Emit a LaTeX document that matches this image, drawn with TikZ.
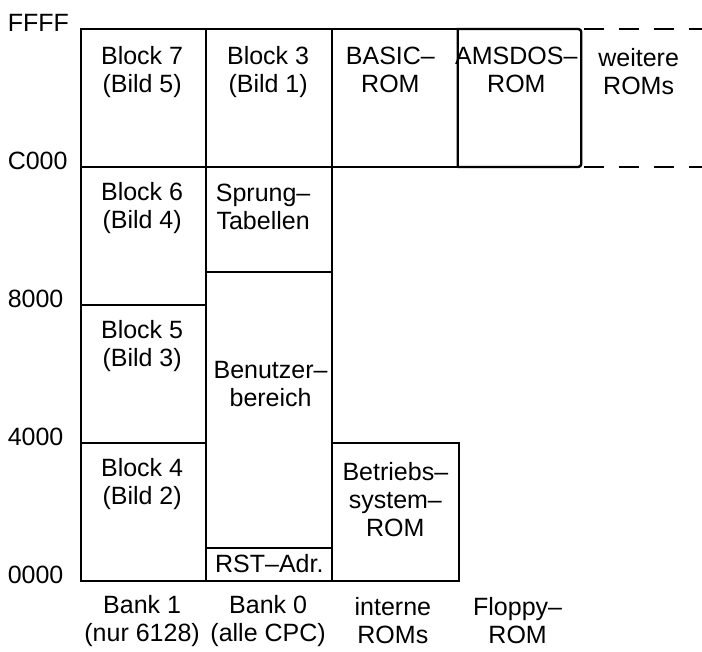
\documentclass[tikz,border=0pt]{standalone}
\usepackage{fontspec}
\setmainfont{Liberation Sans}
\usetikzlibrary{positioning}

\tikzset{
  mapline/.style={line width=1.2pt, black},
  romdash/.style={line width=1.2pt, dash pattern=on 10pt off 7.5pt},
  memtext/.style={align=center, font=\fontsize{12.5}{14}\selectfont, inner sep=0pt},
  addrtext/.style={anchor=west, font=\fontsize{12.5}{14}\selectfont, inner sep=0pt}
}

\begin{document}
\begin{tikzpicture}[x=62.375pt, y=69pt]
  \useasboundingbox (-0.649,-0.514) rectangle (4.978,4.210);
  % Bank 1
  \draw[mapline] (0,0) rectangle (1,4);
  \draw[mapline] (0,1)--(1,1);
  \draw[mapline] (0,2)--(1,2);
  \draw[mapline] (0,3)--(1,3);
  % Bank 0
  \draw[mapline] (1,0) rectangle (2.01,4);
  \draw[mapline] (1,3)--(2.01,3);
  \draw[mapline] (1,2.24)--(2.01,2.24);
  \draw[mapline] (1,0.24)--(2.01,0.24);
  % ROMs top
  \draw[mapline] (2.01,3) rectangle (3.02,4);
  \draw[mapline] (3.02,3) -- (3.02,4) [rounded corners=1.5pt] -- (4.01,4) -- (4.01,3) -- (3.02,3);
  % ROM bottom
  \draw[mapline] (2.01,0) rectangle (3.03,1);
  % further ROMs
  \draw[romdash] (4.03,4)--(4.98,4);
  \draw[romdash] (4.03,3)--(4.98,3);

  % addresses
  \foreach \a/\y in {ffff/4, c000/3, 8000/2, 4000/1, 0000/0}
    \node[addrtext] (adr\a) at (-0.59,\y+0.045) {\MakeUppercase{\a}};

  % block texts
  \node[memtext] (blk7) at (0.49,3.69) {Block 7\\(Bild 5)};
  \node[memtext] (blk6) at (0.49,2.70) {Block 6\\(Bild 4)};
  \node[memtext] (blk5) at (0.49,1.70) {Block 5\\(Bild 3)};
  \node[memtext] (blk4) at (0.49,0.70) {Block 4\\(Bild 2)};
  \node[memtext] (blk3) at (1.50,3.69) {Block 3\\(Bild 1)};
  \node[memtext] (sprung) at (1.46,2.71) {Sprung--\\Tabellen};
  \node[memtext] (benutzer) at (1.52,1.43) {Benutzer--\\bereich};
  \node[memtext] (rst) at (1.51,0.13) {RST--Adr.};
  \node[memtext] (basic) at (2.48,3.70) {BASIC--\\ROM};
  \node[memtext] (amsdos) at (3.49,3.70) {AMSDOS--\\ROM};
  \node[memtext] (weitere) at (4.47,3.69) {weitere\\ROMs};
  \node[memtext] (betriebs) at (2.52,0.59) {Betriebs--\\system--\\ROM};

  % column labels
  \node[memtext] (bank1) at (0.49,-0.29) {Bank 1\\(nur 6128)};
  \node[memtext] (bank0) at (1.50,-0.29) {Bank 0\\(alle CPC)};
  \node[memtext] (introm) at (2.50,-0.29) {interne\\ROMs};
  \node[memtext] (floppy) at (3.50,-0.29) {Floppy--\\ROM};
\end{tikzpicture}
\end{document}
